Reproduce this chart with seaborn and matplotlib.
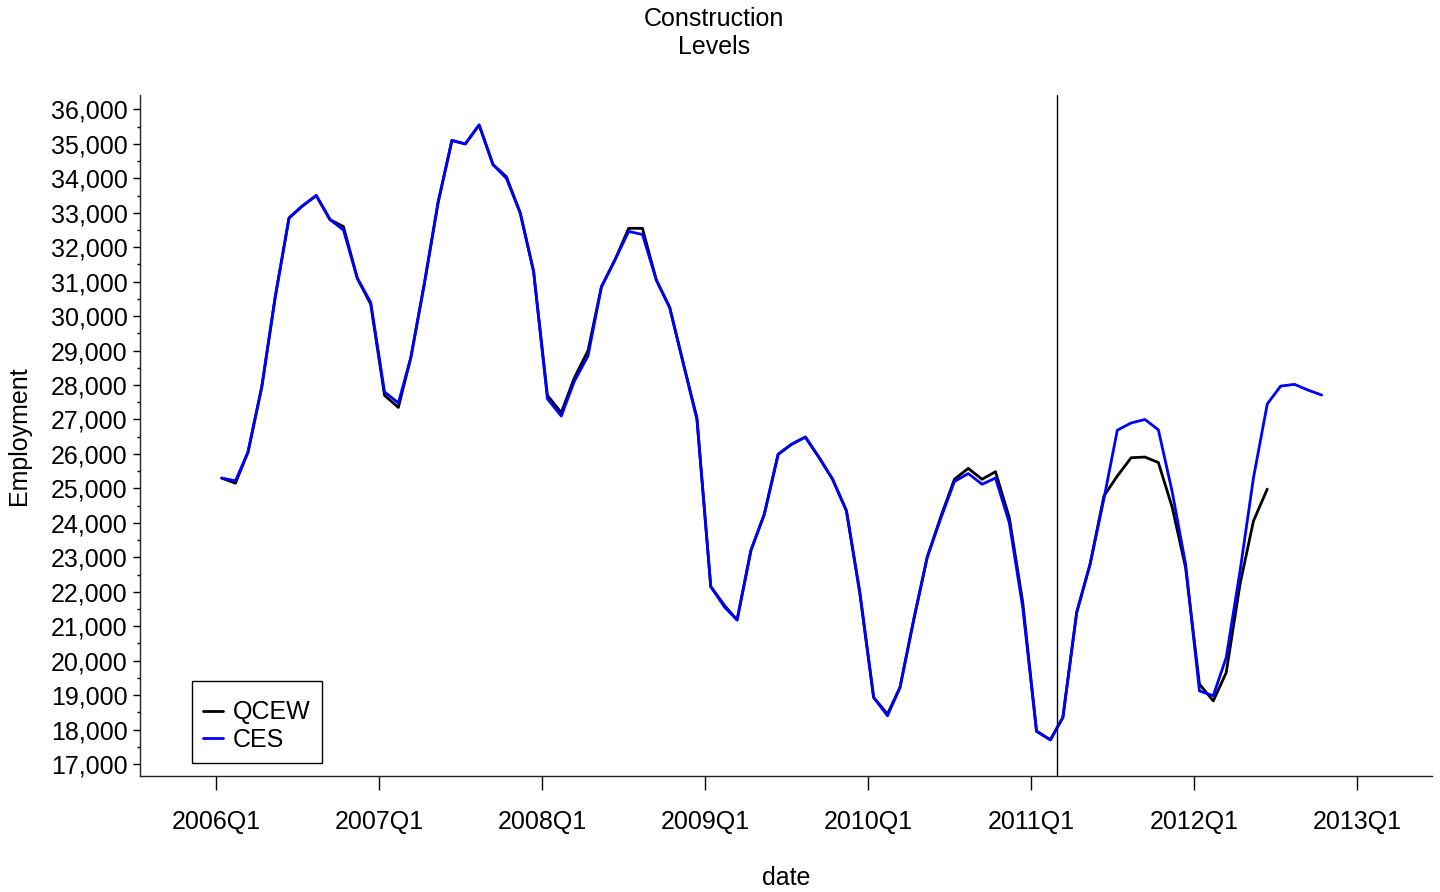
import pandas as pd
import matplotlib.pyplot as plt
import matplotlib.ticker as mticker
import seaborn as sns

# monthly construction employment levels
qcew = [25300, 25150, 26050, 27950, 30550, 32850, 33200, 33500, 32800, 32600, 31100, 30350,
        27700, 27350, 28800, 31000, 33300, 35100, 35000, 35550, 34400, 34050, 33000, 31300,
        27700, 27200, 28200, 29000, 30850, 31650, 32550, 32550, 31050, 30250, 28600, 27050,
        22150, 21600, 21180, 23200, 24250, 25990, 26280, 26490, 25890, 25265, 24350, 21950,
        18930, 18450, 19220, 21200, 23000, 24200, 25265, 25580, 25265, 25485, 24150, 21700,
        17950, 17700, 18350, 21400, 22800, 24780, 25360, 25890, 25910, 25750, 24450, 22700,
        19320, 18830, 19650, 22220, 24050, 24980]
ces = [25300, 25220, 26050, 27950, 30550, 32850, 33200, 33500, 32800, 32500, 31100, 30400,
       27800, 27480, 28800, 31000, 33300, 35100, 35000, 35550, 34400, 34000, 33000, 31300,
       27600, 27100, 28100, 28850, 30850, 31650, 32460, 32370, 31050, 30250, 28600, 27000,
       22150, 21550, 21180, 23200, 24250, 25990, 26280, 26490, 25890, 25265, 24350, 22000,
       18930, 18400, 19220, 21200, 23000, 24150, 25200, 25430, 25120, 25300, 24000, 21550,
       17950, 17700, 18350, 21400, 22800, 24700, 26690, 26900, 27000, 26700, 24900, 22800,
       19120, 18980, 20090, 22600, 25300, 27450, 27970, 28020, 27850, 27710]
start_month = '2006-01-01'
cutoff_date = '2011-02-27'
tick_years = list(range(2006, 2014))


def monthly_dates(n):
    # monthly values are plotted mid-month
    return pd.date_range(start_month, periods=n, freq='MS') + pd.Timedelta(days=12)


qcew_df = pd.DataFrame({'date': monthly_dates(len(qcew)), 'Employment': qcew, 'series': 'QCEW'})
ces_df = pd.DataFrame({'date': monthly_dates(len(ces)), 'Employment': ces, 'series': 'CES'})
df = pd.concat([qcew_df, ces_df], ignore_index=True)

sns.set_style('ticks')
plt.rcParams['font.family'] = ['Liberation Sans', 'DejaVu Sans']
plt.rcParams['font.size'] = 18
plt.rcParams['text.color'] = 'black'
plt.rcParams['axes.labelcolor'] = 'black'
plt.rcParams['xtick.color'] = 'black'
plt.rcParams['ytick.color'] = 'black'

fig = plt.figure(figsize=(14.4, 8.92), dpi=100)
ax = fig.add_axes([0.0972, 0.1304, 0.8972, 0.7631])

sns.lineplot(data=df, x='date', y='Employment', hue='series',
             palette={'QCEW': 'black', 'CES': 'blue'}, linewidth=2.0, ax=ax)
ax.axvline(pd.Timestamp(cutoff_date), color='black', linewidth=1.0)

ax.set_xlim(pd.Timestamp('2005-07-14'), pd.Timestamp('2013-06-17'))
ax.set_ylim(16660, 36420)

ax.set_xticks([pd.Timestamp(f'{y}-01-01') for y in tick_years])
ax.set_xticklabels([f'{y}Q1' for y in tick_years])
ax.yaxis.set_major_locator(mticker.MultipleLocator(1000))
ax.yaxis.set_minor_locator(mticker.MultipleLocator(500))
ax.yaxis.set_major_formatter(mticker.StrMethodFormatter('{x:,.0f}'))

ax.tick_params(axis='x', length=10, width=1, pad=15, labelsize=18)
ax.tick_params(axis='y', which='major', length=5, width=1, pad=4, labelsize=18)
ax.tick_params(axis='y', which='minor', length=2.5, width=1)

for side in ['top', 'right']:
    ax.spines[side].set_visible(False)
for side in ['left', 'bottom']:
    ax.spines[side].set_linewidth(1.0)
    ax.spines[side].set_color('#222222')

ax.set_xlabel('date', fontsize=18, labelpad=23)
ax.set_ylabel('Employment', fontsize=18, labelpad=14)

leg = ax.legend(loc='lower left', bbox_to_anchor=(0.040, 0.018), frameon=True,
                fancybox=False, edgecolor='black', framealpha=1, fontsize=18,
                title=' ', title_fontsize=2,
                handlelength=0.8, handletextpad=0.4, labelspacing=0.15,
                borderpad=0.45, borderaxespad=0)
leg.get_frame().set_linewidth(1.0)

fig.suptitle('Construction\nLevels', x=0.496, y=0.992, va='top', fontsize=18,
             linespacing=1.2)

fig.savefig('out.png', dpi=100)
